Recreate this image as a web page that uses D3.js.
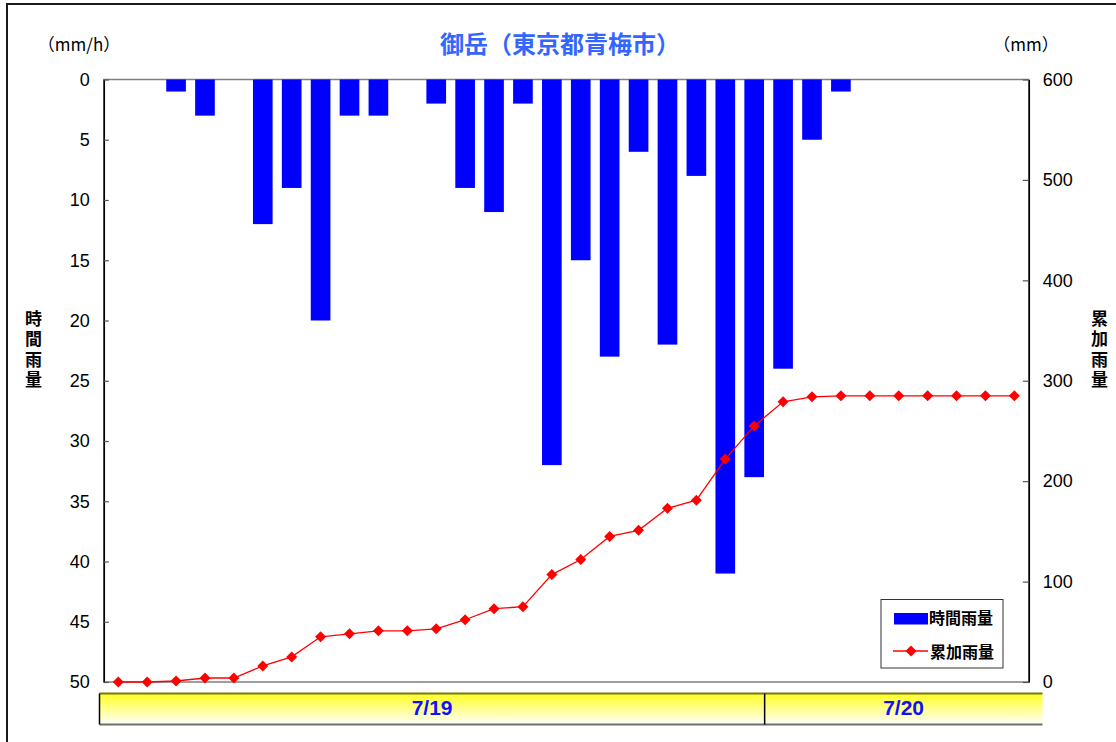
<!DOCTYPE html>
<html>
<head>
<meta charset="utf-8">
<script src="https://cdn.jsdelivr.net/npm/d3@7"></script>
<style>
  html, body { margin: 0; padding: 0; background: #fff; }
  svg { display: block; }
  .cjk { font-family: "Noto Sans CJK JP", "Noto Sans", sans-serif; font-weight: bold; }
  .cjk.light { font-weight: normal; }
  .num { font-family: "Liberation Sans", Arial, sans-serif; }
  .vert { writing-mode: vertical-rl; text-orientation: upright; }
</style>
</head>
<body>
<svg id="chart" width="1116" height="742"></svg>
<script>
// Hourly observations at 御岳 (青梅市), 7/19 02時 → 7/20 09時
const categories = [
  "7/19 2時","7/19 3時","7/19 4時","7/19 5時","7/19 6時","7/19 7時","7/19 8時","7/19 9時",
  "7/19 10時","7/19 11時","7/19 12時","7/19 13時","7/19 14時","7/19 15時","7/19 16時","7/19 17時",
  "7/19 18時","7/19 19時","7/19 20時","7/19 21時","7/19 22時","7/19 23時","7/19 24時",
  "7/20 1時","7/20 2時","7/20 3時","7/20 4時","7/20 5時","7/20 6時","7/20 7時","7/20 8時","7/20 9時"
];
// 時間雨量 (mm/h)
const hourlyRain = [0,0,1,3,0,12,9,20,3,3,0,2,9,11,2,32,15,23,6,22,8,41,33,24,5,1,0,0,0,0,0,0];
// 累加雨量 (mm)
const cumulativeRain = [0,0,1,4,4,16,25,45,48,51,51,53,62,73,75,107,122,145,151,173,181,222,255,279,284,285,285,285,285,285,285,285];
// Date strip below the plot
const days = ["7/19", "7/20"];
const dayHours = [23, 9];
// Axis ticks
const leftTicks = [0,5,10,15,20,25,30,35,40,45,50];
const rightTicks = [0,100,200,300,400,500,600];

const titleText = "御岳（東京都青梅市）";
const leftTitle = "時間雨量";
const rightTitle = "累加雨量";

const svg = d3.select("#chart");
const plot = { left: 103.8, right: 1028.8, top: 79.5, bottom: 682 };

// Outer frame
svg.append("rect")
  .attr("x", 7).attr("y", 4).attr("width", 1130).attr("height", 760)
  .attr("fill", "#fff").attr("stroke", "#1a1a1a").attr("stroke-width", 2);

const x = d3.scaleBand()
  .domain(d3.range(categories.length))
  .range([plot.left, plot.right])
  .paddingInner(0.32).paddingOuter(0.16);
const step = (plot.right - plot.left) / categories.length;
const xc = i => x(i) + x.bandwidth() / 2;

const yL = d3.scaleLinear().domain([0, 50]).range([plot.top, plot.bottom]);
const yR = d3.scaleLinear().domain([0, 600]).range([plot.bottom, plot.top]);

// Plot area frame
svg.append("rect")
  .attr("x", plot.left).attr("y", plot.top)
  .attr("width", plot.right - plot.left).attr("height", plot.bottom - plot.top)
  .attr("fill", "#fff").attr("stroke", "#7f7f7f").attr("stroke-width", 1.5);

// Hourly bars hang from the top (inverted axis)
svg.append("g").selectAll("rect")
  .data(hourlyRain)
  .join("rect")
  .attr("x", (d, i) => x(i))
  .attr("y", yL(0))
  .attr("width", x.bandwidth())
  .attr("height", d => yL(d) - yL(0))
  .attr("fill", "#0000ff");

// Axes
const leftAxis = d3.axisLeft(yL).tickValues(leftTicks).tickSizeInner(-5).tickSizeOuter(0).tickPadding(14);
const gL = svg.append("g").attr("transform", `translate(${plot.left},0)`).call(leftAxis);
const rightAxis = d3.axisRight(yR).tickValues(rightTicks).tickSizeInner(-6).tickSizeOuter(0).tickPadding(14);
const gR = svg.append("g").attr("transform", `translate(${plot.right},0)`).call(rightAxis);
[gL, gR].forEach(g => {
  g.select(".domain").attr("stroke", "#000").attr("stroke-width", 1.5);
  g.selectAll(".tick line").attr("stroke", "#555").attr("stroke-width", 1.2);
  g.selectAll(".tick text")
    .attr("class", "num")
    .attr("font-size", 18)
    .attr("fill", "#000");
});

// Cumulative line with diamond markers
const line = d3.line().x((d, i) => xc(i)).y(d => yR(d));
svg.append("path")
  .datum(cumulativeRain)
  .attr("d", line)
  .attr("fill", "none")
  .attr("stroke", "#ff0000")
  .attr("stroke-width", 1.3);
const diamond = "M0,-5.5L5.5,0L0,5.5L-5.5,0Z";
svg.append("g").selectAll("path")
  .data(cumulativeRain)
  .join("path")
  .attr("d", diamond)
  .attr("transform", (d, i) => `translate(${xc(i)},${yR(d)})`)
  .attr("fill", "#ff0000");

// Title and unit labels
svg.append("text").attr("class", "cjk")
  .attr("x", 560).attr("y", 53).attr("text-anchor", "middle")
  .attr("font-size", 24).attr("fill", "#3366ff")
  .text(titleText);
svg.append("text").attr("class", "cjk light")
  .attr("x", 79).attr("y", 51).attr("text-anchor", "middle")
  .attr("font-size", 17).attr("fill", "#000")
  .text("（mm/h）");
svg.append("text").attr("class", "cjk light")
  .attr("x", 1026).attr("y", 51).attr("text-anchor", "middle")
  .attr("font-size", 17).attr("fill", "#000")
  .text("（mm）");

// Vertical axis titles, written top to bottom
function stacked(label, cx) {
  svg.append("text").attr("class", "cjk vert")
    .attr("x", cx).attr("y", 310)
    .attr("font-size", 17)
    .style("letter-spacing", "3.5px")
    .attr("fill", "#000")
    .text(label);
}
stacked(leftTitle, 33.5);
stacked(rightTitle, 1099.5);

// Legend
const lg = svg.append("g");
lg.append("rect").attr("x", 881).attr("y", 599.5).attr("width", 122).attr("height", 68.5)
  .attr("fill", "#fff").attr("stroke", "#333").attr("stroke-width", 1);
lg.append("rect").attr("x", 894).attr("y", 613).attr("width", 34).attr("height", 11.5).attr("fill", "#0000ff");
lg.append("text").attr("class", "cjk").attr("x", 929).attr("y", 624)
  .attr("font-size", 16).attr("fill", "#000").text(leftTitle);
lg.append("line").attr("x1", 893).attr("x2", 928).attr("y1", 651).attr("y2", 651)
  .attr("stroke", "#ff0000").attr("stroke-width", 1.3);
lg.append("path").attr("d", diamond).attr("transform", "translate(911,651)").attr("fill", "#ff0000");
lg.append("text").attr("class", "cjk").attr("x", 930).attr("y", 657.5)
  .attr("font-size", 16).attr("fill", "#000").text(rightTitle);

// Date strip
const defs = svg.append("defs");
const grad = defs.append("linearGradient").attr("id", "dayFill")
  .attr("x1", 0).attr("y1", 0).attr("x2", 0).attr("y2", 1);
grad.append("stop").attr("offset", "0%").attr("stop-color", "#ffff22");
grad.append("stop").attr("offset", "100%").attr("stop-color", "#ffffff");

const strip = { left: 99.5, right: 1042.5, top: 693.5, bottom: 724.5 };
const dayStarts = d3.cumsum([0].concat(dayHours)).slice(0, -1);
const dayBounds = days.map((d, k) => {
  const x0 = k === 0 ? strip.left : plot.left + step * dayStarts[k] - 4;
  const x1 = k === days.length - 1 ? strip.right : plot.left + step * dayStarts[k + 1] - 4;
  return { label: d, x0, x1 };
});
const sg = svg.append("g");
sg.append("rect").attr("x", strip.left).attr("y", strip.top)
  .attr("width", strip.right - strip.left).attr("height", strip.bottom - strip.top)
  .attr("fill", "url(#dayFill)");
sg.append("line").attr("x1", strip.left).attr("x2", strip.right).attr("y1", strip.top).attr("y2", strip.top)
  .attr("stroke", "#7a7a10").attr("stroke-width", 2);
sg.append("line").attr("x1", strip.left).attr("x2", strip.right).attr("y1", strip.bottom).attr("y2", strip.bottom)
  .attr("stroke", "#6e6e6e").attr("stroke-width", 2);
sg.append("line").attr("x1", strip.left).attr("x2", strip.left).attr("y1", strip.top).attr("y2", strip.bottom)
  .attr("stroke", "#000").attr("stroke-width", 1.5);
sg.selectAll("line.div")
  .data(dayBounds.slice(1))
  .join("line").attr("class", "div")
  .attr("x1", d => d.x0).attr("x2", d => d.x0)
  .attr("y1", strip.top).attr("y2", strip.bottom)
  .attr("stroke", "#000").attr("stroke-width", 1.5);
sg.selectAll("text")
  .data(dayBounds)
  .join("text")
  .attr("class", "num")
  .attr("x", d => (d.x0 + d.x1) / 2)
  .attr("y", 714.5)
  .attr("text-anchor", "middle")
  .attr("font-size", 21).attr("font-weight", "bold")
  .attr("fill", "#1010ff")
  .text(d => d.label);
</script>
</body>
</html>
